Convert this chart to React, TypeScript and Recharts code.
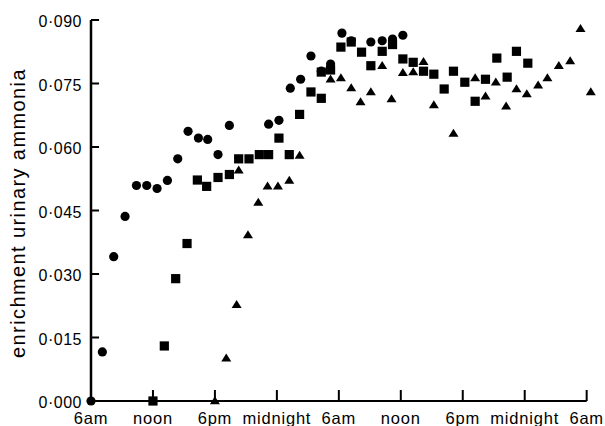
import React from 'react';
import { ScatterChart, Scatter, XAxis, YAxis, ReferenceLine } from 'recharts';

// hours after the first 6am, two days
const hourTicks = [0, 6, 12, 18, 24, 30, 36, 42, 48];
const hourLabels = ['6am', 'noon', '6pm', 'midnight', '6am', 'noon', '6pm', 'midnight', '6am'];
const enrichmentTicks = [0, 0.015, 0.03, 0.045, 0.06, 0.075, 0.09];

const circleHours = [0, 1.1, 2.2, 3.3, 4.4, 5.4, 6.4, 7.4, 8.4, 9.4, 10.4, 11.3, 12.3, 13.4, 17.2, 18.2, 19.3, 20.3, 21.3, 22.3, 23.2, 24.3, 25.2, 27.1, 28.2, 29.2, 30.2];
const circleValues = [0, 0.0116, 0.0341, 0.0436, 0.0509, 0.0509, 0.0502, 0.0521, 0.0572, 0.0637, 0.0621, 0.0618, 0.0582, 0.0651, 0.0654, 0.0663, 0.0739, 0.076, 0.0815, 0.0779, 0.0796, 0.0869, 0.0851, 0.0848, 0.0851, 0.0855, 0.0864];

const squareHours = [6.0, 7.1, 8.2, 9.3, 10.3, 11.2, 12.3, 13.4, 14.3, 15.3, 16.3, 17.2, 18.2, 19.2, 20.2, 21.3, 22.3, 22.3, 23.2, 24.2, 25.2, 26.2, 27.1, 28.2, 29.2, 30.2, 31.2, 32.2, 33.2, 34.2, 35.1, 36.2, 37.2, 38.2, 39.3, 40.3, 41.2, 42.3];
const squareValues = [0, 0.013, 0.0289, 0.0372, 0.0522, 0.0507, 0.0528, 0.0535, 0.0572, 0.0572, 0.0582, 0.0582, 0.0621, 0.0582, 0.0677, 0.073, 0.0715, 0.0777, 0.0782, 0.0836, 0.0848, 0.0824, 0.0792, 0.0826, 0.0842, 0.0808, 0.08, 0.0779, 0.0772, 0.0737, 0.0779, 0.0753, 0.0708, 0.076, 0.081, 0.0765, 0.0826, 0.0798];

const triangleHours = [12.0, 13.1, 14.1, 14.3, 15.2, 16.2, 17.1, 18.1, 19.2, 20.2, 23.2, 24.2, 25.2, 26.1, 27.1, 28.2, 29.1, 30.2, 31.2, 32.2, 33.2, 35.1, 37.2, 38.2, 39.2, 40.2, 41.2, 42.2, 43.3, 44.2, 45.3, 46.4, 47.4, 48.4];
const triangleValues = [0, 0.0101, 0.0227, 0.0545, 0.0392, 0.0469, 0.0507, 0.0507, 0.0521, 0.058, 0.076, 0.0763, 0.0739, 0.0706, 0.073, 0.0792, 0.0713, 0.0775, 0.0777, 0.0801, 0.0699, 0.0632, 0.0763, 0.072, 0.0753, 0.0696, 0.0737, 0.0725, 0.0746, 0.0763, 0.0792, 0.0803, 0.0879, 0.073];

const toPoints = (hours: number[], values: number[]) =>
  hours.map((hour, i) => ({ hour, value: values[i] }));

const circles = toPoints(circleHours, circleValues);
const squares = toPoints(squareHours, squareValues);
const triangles = toPoints(triangleHours, triangleValues);

const font = '"Liberation Sans", Arial, sans-serif';

// marker shapes
const DotShape = ({ cx, cy }: any) => <circle cx={cx} cy={cy} r={4.6} fill="#000" />;
const SquareShape = ({ cx, cy }: any) => (
  <rect x={cx - 4.6} y={cy - 4.6} width={9.2} height={9.2} fill="#000" />
);
const TriangleShape = ({ cx, cy }: any) => (
  <polygon points={`${cx},${cy - 4.8} ${cx + 5},${cy + 3.2} ${cx - 5},${cy + 3.2}`} fill="#000" />
);

const formatValue = (v: number) => v.toFixed(3).replace('.', '·');

const HourTick = ({ x, y, payload }: any) => (
  <text x={x} y={Number(y) + 23} textAnchor="middle" fill="#000" fontSize={16.5} fontFamily={font} letterSpacing={0.8}>
    {hourLabels[hourTicks.indexOf(payload.value)]}
  </text>
);

const ValueTick = ({ x, y, payload }: any) => (
  <text x={Number(x) - 9} y={Number(y) + 7} textAnchor="end" fill="#000" fontSize={16} fontFamily={font} letterSpacing={0.5}>
    {formatValue(payload.value)}
  </text>
);

const ValueLabel = () => (
  <text
    x={25}
    y={213}
    transform="rotate(-90, 25, 213)"
    textAnchor="middle"
    fill="#000"
    fontSize={20}
    fontFamily={font}
    letterSpacing={1.4}
  >
    enrichment urinary ammonia
  </text>
);

export default function App() {
  return (
    <div style={{ position: 'absolute', left: 0, top: 0, background: '#fff' }}>
      <ScatterChart width={605} height={426} margin={{ top: 20, right: 8, bottom: 0, left: 0 }}>
        <XAxis
          type="number"
          dataKey="hour"
          domain={[0, 49]}
          ticks={hourTicks}
          interval={0}
          axisLine={false}
          tickLine={false}
          tickSize={0}
          tickMargin={0}
          height={25}
          tick={<HourTick />}
        />
        <YAxis
          type="number"
          dataKey="value"
          domain={[0, 0.09]}
          ticks={enrichmentTicks}
          interval={0}
          width={91}
          axisLine={{ stroke: '#000', strokeWidth: 2.5 }}
          tickLine={false}
          tickSize={0}
          tickMargin={0}
          tick={<ValueTick />}
          label={<ValueLabel />}
        />
        <ReferenceLine
          segment={[{ x: 0, y: 0 }, { x: 48, y: 0 }]}
          stroke="#000"
          strokeWidth={2}
          ifOverflow="visible"
        />
        {/* inward tick marks, about 11px up from the time axis */}
        {hourTicks.slice(1).map((h) => (
          <ReferenceLine
            key={`xt-${h}`}
            segment={[{ x: h, y: 0 }, { x: h, y: 0.0026 }]}
            stroke="#000"
            strokeWidth={2}
            ifOverflow="visible"
          />
        ))}
        {/* inward tick marks, about 8px right of the value axis */}
        {enrichmentTicks.slice(1).map((v) => (
          <ReferenceLine
            key={`yt-${v}`}
            segment={[{ x: 0, y: v }, { x: 0.78, y: v }]}
            stroke="#000"
            strokeWidth={2}
            ifOverflow="visible"
          />
        ))}
        <Scatter data={circles} shape={DotShape} isAnimationActive={false} />
        <Scatter data={squares} shape={SquareShape} isAnimationActive={false} />
        <Scatter data={triangles} shape={TriangleShape} isAnimationActive={false} />
      </ScatterChart>
    </div>
  );
}
